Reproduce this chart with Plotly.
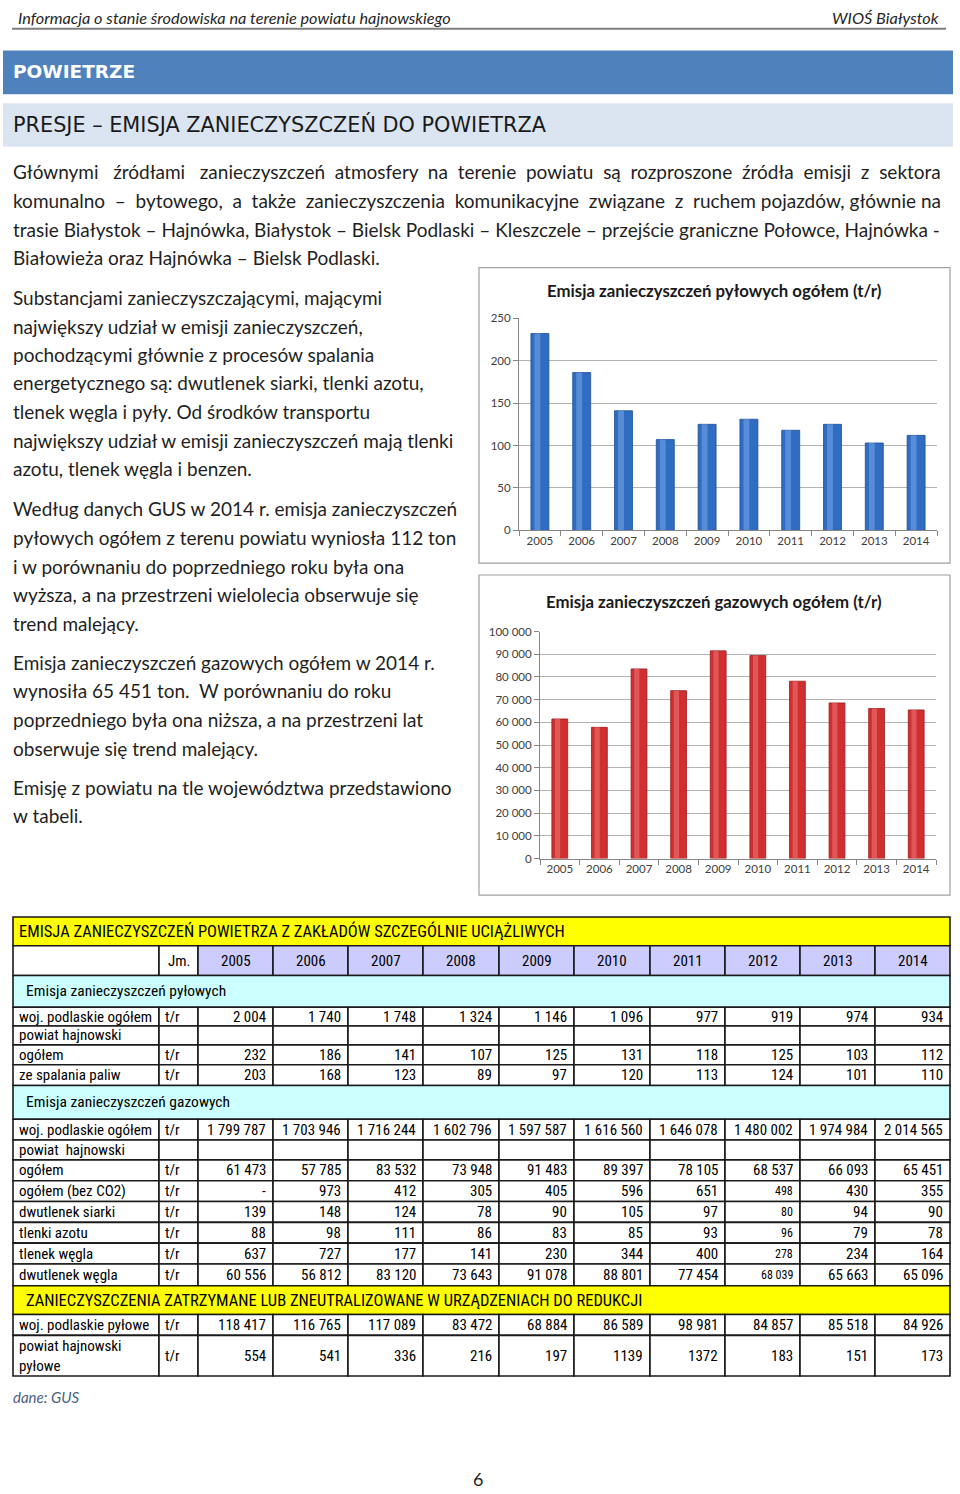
import plotly.graph_objects as go

W, H = 960, 1494

# ---------------- data ----------------
years = ["2005", "2006", "2007", "2008", "2009", "2010", "2011", "2012", "2013", "2014"]
pyl_ogolem = [232, 186, 141, 107, 125, 131, 118, 125, 103, 112]
gaz_ogolem = [61473, 57785, 83532, 73948, 91483, 89397, 78105, 68537, 66093, 65451]

woj_pyl = ["2 004", "1 740", "1 748", "1 324", "1 146", "1 096", "977", "919", "974", "934"]
pyl_spalanie = ["203", "168", "123", "89", "97", "120", "113", "124", "101", "110"]
woj_gaz = ["1 799 787", "1 703 946", "1 716 244", "1 602 796", "1 597 587",
           "1 616 560", "1 646 078", "1 480 002", "1 974 984", "2 014 565"]
gaz_bez_co2 = ["-", "973", "412", "305", "405", "596", "651", "498", "430", "355"]
dwutlenek_siarki = ["139", "148", "124", "78", "90", "105", "97", "80", "94", "90"]
tlenki_azotu = ["88", "98", "111", "86", "83", "85", "93", "96", "79", "78"]
tlenek_wegla = ["637", "727", "177", "141", "230", "344", "400", "278", "234", "164"]
dwutlenek_wegla = ["60 556", "56 812", "83 120", "73 643", "91 078",
                   "88 801", "77 454", "68 039", "65 663", "65 096"]
woj_pylowe_red = ["118 417", "116 765", "117 089", "83 472", "68 884",
                  "86 589", "98 981", "84 857", "85 518", "84 926"]
pow_pylowe_red = ["554", "541", "336", "216", "197", "1139", "1372", "183", "151", "173"]

para1 = [
    "Głównymi źródłami zanieczyszczeń atmosfery na terenie powiatu są rozproszone źródła emisji z sektora",
    "komunalno – bytowego, a także zanieczyszczenia komunikacyjne związane z ruchem pojazdów, głównie na",
    "trasie Białystok – Hajnówka, Białystok – Bielsk Podlaski – Kleszczele – przejście graniczne Połowce, Hajnówka -",
    "Białowieża oraz Hajnówka – Bielsk Podlaski.",
]
para1_extra_spaces = [14, 9, 0, 0]   # justification padding per line
left_col = [
    (293, "Substancjami zanieczyszczającymi, mającymi"),
    (322, "największy udział w emisji zanieczyszczeń,"),
    (351, "pochodzącymi głównie z procesów spalania"),
    (379, "energetycznego są: dwutlenek siarki, tlenki azotu,"),
    (408, "tlenek węgla i pyły. Od środków transportu"),
    (437, "największy udział w emisji zanieczyszczeń mają tlenki"),
    (466, "azotu, tlenek węgla i benzen."),
    (506, "Według danych GUS w 2014 r. emisja zanieczyszczeń"),
    (535, "pyłowych ogółem z terenu powiatu wyniosła 112 ton"),
    (564, "i w porównaniu do poprzedniego roku była ona"),
    (593, "wyższa, a na przestrzeni wielolecia obserwuje się"),
    (622, "trend malejący."),
    (661, "Emisja zanieczyszczeń gazowych ogółem w 2014 r."),
    (690, "wynosiła 65 451 ton.  W porównaniu do roku"),
    (719, "poprzedniego była ona niższa, a na przestrzeni lat"),
    (748, "obserwuje się trend malejący."),
    (787, "Emisję z powiatu na tle województwa przedstawiono"),
    (816, "w tabeli."),
]


def fmt(v):
    return f"{v:,}".replace(",", " ")


def justify(line, extra):
    words = line.split(" ")
    gaps = len(words) - 1
    if extra <= 0 or gaps <= 0:
        return line
    out = words[0]
    for i, w in enumerate(words[1:]):
        n = 1 + extra // gaps + (1 if i < extra % gaps else 0)
        out += " " * n + w
    return out


# ---------------- helpers ----------------
def px(x):
    return x / W


def py(y):
    return 1 - y / H


annotations = []
shapes = []

BODY = "Lato, 'Open Sans', sans-serif"
TABLE = "'Roboto Condensed', 'Liberation Sans', Arial, sans-serif"


def text(x, y, s, size, color="#1f1f1f", family=BODY, xanchor="left", align="left"):
    annotations.append(dict(
        x=px(x), y=py(y), xref="paper", yref="paper", text=s, showarrow=False,
        xanchor=xanchor, yanchor="middle", align=align,
        font=dict(size=size, color=color, family=family)))


def rect(x0, y0, x1, y1, fill, line_color=None, lw=0):
    shapes.append(dict(
        type="rect", xref="paper", yref="paper",
        x0=px(x0), x1=px(x1), y0=py(y1), y1=py(y0),
        fillcolor=fill, line=dict(color=line_color or fill, width=lw), layer="below"))


# ---------------- page header ----------------
text(16, 11, "<i>Informacja o stanie środowiska na terenie powiatu hajnowskiego</i>", 16.3, "#262626")
text(941, 11, "<i>WIOŚ Białystok</i>", 16.3, "#262626", xanchor="right")
shapes.append(dict(type="line", xref="paper", yref="paper", x0=px(12), x1=px(946),
                   y0=py(22), y1=py(22), line=dict(color="#7f7f7f", width=2)))

rect(3, 44, 953, 88, "#4F81BD")
text(11, 65, "<b>POWIETRZE</b>", 18.5, "#ffffff", family="'DejaVu Sans', sans-serif")
rect(3, 97, 953, 141, "#DBE5F1")
text(11, 119, "PRESJE – EMISJA ZANIECZYSZCZEŃ DO POWIETRZA", 20.8, "#1a1a1a",
     family="'DejaVu Sans', sans-serif")

for i, line in enumerate(para1):
    text(11, 166 + 29 * i, justify(line, para1_extra_spaces[i]), 19)
for y, line in left_col:
    text(11, y, line, 19)

# ---------------- charts ----------------
fig = go.Figure()

fig.add_trace(go.Bar(x=years, y=pyl_ogolem, width=0.43, xaxis="x", yaxis="y",
                     marker=dict(color="#2F6CC2", line=dict(color="#1f4f94", width=0.8)),
                     hoverinfo="x+y"))
fig.add_trace(go.Bar(x=years, y=pyl_ogolem, width=0.14, offset=-0.13, xaxis="x", yaxis="y",
                     marker=dict(color="rgba(120,170,235,0.55)", line=dict(width=0)),
                     hoverinfo="skip"))
fig.add_trace(go.Bar(x=years, y=gaz_ogolem, width=0.40, xaxis="x2", yaxis="y2",
                     marker=dict(color="#CF2F2F", line=dict(color="#9c1c1c", width=0.8)),
                     hoverinfo="x+y"))
fig.add_trace(go.Bar(x=years, y=gaz_ogolem, width=0.13, offset=-0.12, xaxis="x2", yaxis="y2",
                     marker=dict(color="rgba(240,120,120,0.55)", line=dict(width=0)),
                     hoverinfo="skip"))

# chart frames
rect(479, 263, 950, 561, "rgba(0,0,0,0)", "#a0a0a0", 1.2)
rect(479, 573, 950, 896, "rgba(0,0,0,0)", "#a0a0a0", 1.2)
text(714, 286, "<b>Emisja zanieczyszczeń pyłowych ogółem (t/r)</b>", 16.8, "#1a1a1a")
annotations[-1]["xanchor"] = "center"
text(714, 600, "<b>Emisja zanieczyszczeń gazowych ogółem (t/r)</b>", 16.8, "#1a1a1a")
annotations[-1]["xanchor"] = "center"

axis_font = dict(size=11.5, color="#404040", family=BODY)
common_x = dict(type="category", showline=True, linecolor="#868686", linewidth=1,
                ticks="outside", tickson="boundaries", ticklen=5, tickcolor="#868686",
                showgrid=False, tickfont=axis_font, fixedrange=True)
common_y = dict(showline=True, linecolor="#868686", linewidth=1, ticks="outside",
                ticklen=5, tickcolor="#868686", showgrid=True, gridcolor="#b3b3b3",
                gridwidth=1, zeroline=False, tickfont=axis_font, fixedrange=True)

# ---------------- table ----------------
cols = [13, 159, 198, 273, 348, 423, 499, 574, 650, 725, 800, 875, 950]
LINE = "#1a1a1a"
LW = 1.6
TS = 15

rows = [
    ("title", 918, 947, "EMISJA ZANIECZYSZCZEŃ POWIETRZA Z ZAKŁADÓW SZCZEGÓLNIE UCIĄŻLIWYCH"),
    ("header", 947, 977),
    ("sec", 977, 1009, "Emisja zanieczyszczeń pyłowych"),
    ("data", 1009, 1028, "woj. podlaskie ogółem", "t/r", woj_pyl),
    ("data", 1028, 1047, "powiat hajnowski", "", [""] * 10),
    ("data", 1047, 1067, "ogółem", "t/r", [fmt(v) for v in pyl_ogolem]),
    ("data", 1067, 1088, "ze spalania paliw", "t/r", pyl_spalanie),
    ("sec", 1088, 1122, "Emisja zanieczyszczeń gazowych"),
    ("data", 1122, 1143, "woj. podlaskie ogółem", "t/r", woj_gaz),
    ("data", 1143, 1163, "powiat  hajnowski", "", [""] * 10),
    ("data", 1163, 1184, "ogółem", "t/r", [fmt(v) for v in gaz_ogolem]),
    ("data", 1184, 1205, "ogółem (bez CO2)", "t/r", gaz_bez_co2, True),
    ("data", 1205, 1226, "dwutlenek siarki", "t/r", dwutlenek_siarki, True),
    ("data", 1226, 1247, "tlenki azotu", "t/r", tlenki_azotu, True),
    ("data", 1247, 1268, "tlenek węgla", "t/r", tlenek_wegla, True),
    ("data", 1268, 1290, "dwutlenek węgla", "t/r", dwutlenek_wegla, True),
    ("title2", 1290, 1319, "ZANIECZYSZCZENIA ZATRZYMANE LUB ZNEUTRALIZOWANE W URZĄDZENIACH DO REDUKCJI"),
    ("data", 1319, 1340, "woj. podlaskie pyłowe", "t/r", woj_pylowe_red),
    ("data", 1340, 1381, "powiat hajnowski<br>pyłowe", "t/r", pow_pylowe_red),
]

for r in rows:
    kind, y0, y1 = r[0], r[1], r[2]
    yc = (y0 + y1) / 2
    if kind in ("title", "title2"):
        rect(cols[0], y0, cols[-1], y1, "#FFFF00", LINE, LW)
        text(17 if kind == "title" else 24, yc, r[3], 16.5, "#000000", TABLE)
    elif kind == "sec":
        rect(cols[0], y0, cols[-1], y1, "#CCFFFF", LINE, LW)
        text(24, yc, r[3], 15.5, "#000000", TABLE)
    elif kind == "header":
        rect(cols[0], y0, cols[1], y1, "#ffffff", LINE, LW)
        rect(cols[1], y0, cols[2], y1, "#ffffff", LINE, LW)
        text((cols[1] + cols[2]) / 2 + 1, yc, "Jm.", TS, "#000000", TABLE, xanchor="center")
        for j, yr in enumerate(years):
            rect(cols[j + 2], y0, cols[j + 3], y1, "#CCCCFF", LINE, LW)
            text((cols[j + 2] + cols[j + 3]) / 2, yc, yr, TS, "#000000", TABLE, xanchor="center")
    else:
        label, jm, vals = r[3], r[4], r[5]
        small2012 = len(r) > 6 and r[6]
        rect(cols[0], y0, cols[1], y1, "#ffffff", LINE, LW)
        text(17, yc, label, TS, "#000000", TABLE)
        rect(cols[1], y0, cols[2], y1, "#ffffff", LINE, LW)
        if jm:
            text(163, yc, jm, TS, "#000000", TABLE)
        for j, v in enumerate(vals):
            rect(cols[j + 2], y0, cols[j + 3], y1, "#ffffff", LINE, LW)
            if v:
                size = 12 if (small2012 and j == 7) else TS
                text(cols[j + 3] - 5, yc, v, size, "#000000", TABLE, xanchor="right")

text(11, 1402, "<i>dane: GUS</i>", 15, "#4a6284")
text(478, 1485, "6", 18, "#1f1f1f", xanchor="center")

fig.update_layout(
    width=W, height=H, margin=dict(l=0, r=0, t=0, b=0),
    paper_bgcolor="#ffffff", plot_bgcolor="#ffffff", showlegend=False,
    separators=", ", barmode="overlay",
    xaxis=dict(domain=[px(519), px(937)], anchor="y", **common_x),
    yaxis=dict(domain=[py(528), py(314)], anchor="x", range=[0, 250], dtick=50, **common_y),
    xaxis2=dict(domain=[px(540), px(936)], anchor="y2", **common_x),
    yaxis2=dict(domain=[py(859), py(630)], anchor="x2", range=[0, 100000], dtick=10000,
                tickformat=",d", **common_y),
    annotations=annotations, shapes=shapes,
)

post = """
document.documentElement.style.margin='0';
document.body.style.margin='0';
document.body.style.padding='0';
"""

fig.write_html("out.html", config={"displayModeBar": False}, post_script=post)
